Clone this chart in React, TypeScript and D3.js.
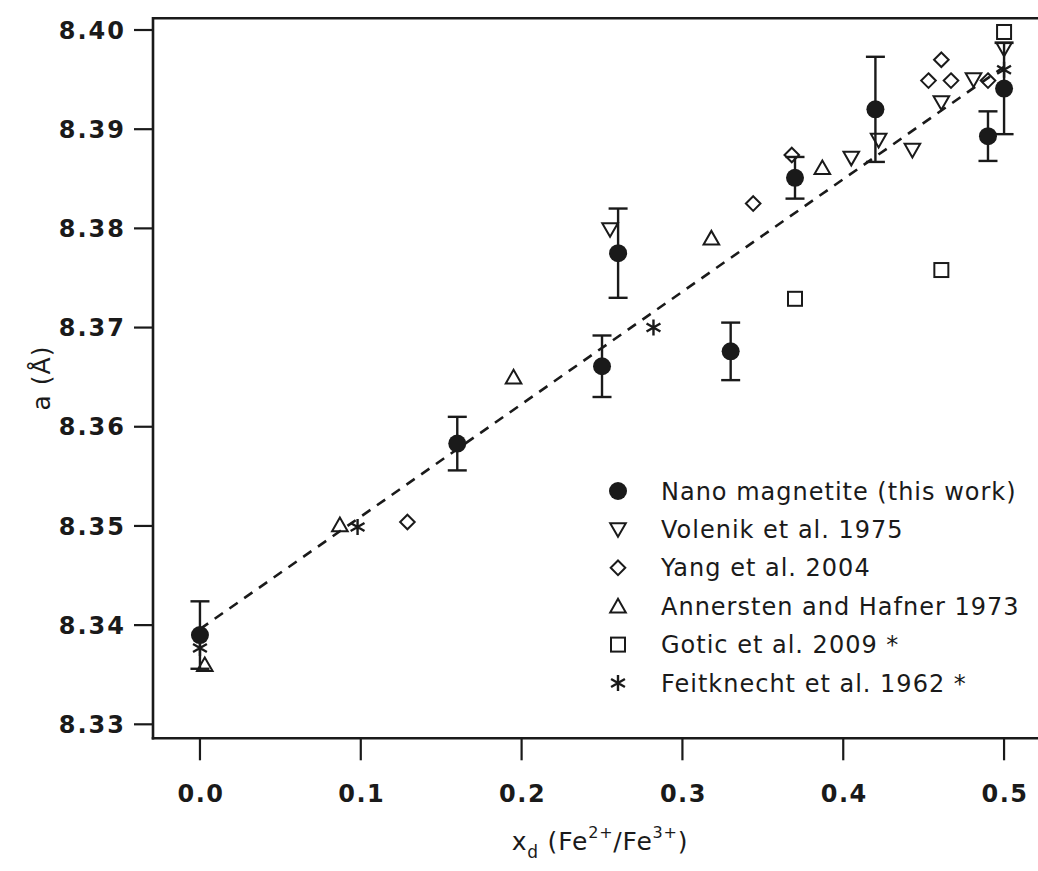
import React from "react";
import * as d3 from "d3";

// ---- Data ----
const nanoX = [0, 0.16, 0.25, 0.26, 0.33, 0.37, 0.42, 0.49, 0.5];
const nanoY = [8.339, 8.3583, 8.3661, 8.3775, 8.3676, 8.3851, 8.392, 8.3893, 8.3941];
const nanoErr = [0.0034, 0.0027, 0.0031, 0.0045, 0.0029, 0.0021, 0.0053, 0.0025, 0.0046];

const volenikX = [0.255, 0.405, 0.422, 0.443, 0.461, 0.481, 0.5];
const volenikY = [8.3799, 8.3871, 8.3889, 8.3879, 8.3927, 8.395, 8.3981];

const yangX = [0.129, 0.344, 0.368, 0.453, 0.461, 0.467, 0.49];
const yangY = [8.3504, 8.3825, 8.3874, 8.3949, 8.397, 8.3949, 8.3949];

const annerstenX = [0.003, 0.087, 0.195, 0.318, 0.387];
const annerstenY = [8.336, 8.3501, 8.365, 8.379, 8.3861];

const goticX = [0.37, 0.461, 0.5];
const goticY = [8.3729, 8.3758, 8.3998];

const feitknechtX = [0, 0.098, 0.282, 0.5];
const feitknechtY = [8.3377, 8.3499, 8.37, 8.396];

const fitX = [0, 0.5];
const fitY = [8.3396, 8.3963];

const xTicks = [0, 0.1, 0.2, 0.3, 0.4, 0.5];
const yTicks = [8.33, 8.34, 8.35, 8.36, 8.37, 8.38, 8.39, 8.4];

const legendLabels = [
  "Nano magnetite (this work)",
  "Volenik et al. 1975",
  "Yang et al. 2004",
  "Annersten and Hafner 1973",
  "Gotic et al. 2009 *",
  "Feitknecht et al. 1962 *",
];
const legendShapes = ["circle", "tridown", "diamond", "triup", "square", "asterisk"];

// ---- Layout ----
const W = 1038;
const H = 871;
const left = 153;
const right = 1038;
const top = 18.3;
const bottom = 738.3;
const FONT = "'DejaVu Sans', Verdana, sans-serif";
const INK = "#1a1a1a";

const x = d3.scaleLinear().domain([-0.0292, 0.5211]).range([left, right]);
const y = d3.scaleLinear().domain([8.32859, 8.40118]).range([bottom, top]);

function Marker({ shape, cx, cy }: { shape: string; cx: number; cy: number }) {
  const sw = 2;
  switch (shape) {
    case "circle":
      return <circle cx={cx} cy={cy} r={9} fill={INK} />;
    case "tridown": {
      const s = 7.8;
      const p = `M${cx - s},${cy - s * 0.8}L${cx + s},${cy - s * 0.8}L${cx},${cy + s * 0.95}Z`;
      return <path d={p} fill="none" stroke={INK} strokeWidth={sw} strokeLinejoin="miter" />;
    }
    case "triup": {
      const s = 7.8;
      const p = `M${cx - s},${cy + s * 0.8}L${cx + s},${cy + s * 0.8}L${cx},${cy - s * 0.95}Z`;
      return <path d={p} fill="none" stroke={INK} strokeWidth={sw} strokeLinejoin="miter" />;
    }
    case "diamond": {
      const s = 7.3;
      const p = `M${cx},${cy - s}L${cx + s},${cy}L${cx},${cy + s}L${cx - s},${cy}Z`;
      return <path d={p} fill="none" stroke={INK} strokeWidth={sw} />;
    }
    case "square": {
      const s = 7;
      return (
        <rect x={cx - s} y={cy - s} width={2 * s} height={2 * s} fill="none" stroke={INK} strokeWidth={sw} />
      );
    }
    case "asterisk": {
      const r = 8;
      const a = (Math.PI / 180) * 30;
      const dx = r * Math.cos(a);
      const dy = r * Math.sin(a);
      const p = `M${cx},${cy - r}L${cx},${cy + r}M${cx - dx},${cy - dy}L${cx + dx},${cy + dy}M${cx - dx},${cy + dy}L${cx + dx},${cy - dy}`;
      return <path d={p} fill="none" stroke={INK} strokeWidth={2.4} />;
    }
  }
  return null;
}

export default function App() {
  const line = d3
    .line<number>()
    .x((_, i) => x(fitX[i]))
    .y((d) => y(d));

  const series: { shape: string; xs: number[]; ys: number[] }[] = [
    { shape: "triup", xs: annerstenX, ys: annerstenY },
    { shape: "asterisk", xs: feitknechtX, ys: feitknechtY },
    { shape: "diamond", xs: yangX, ys: yangY },
    { shape: "tridown", xs: volenikX, ys: volenikY },
    { shape: "square", xs: goticX, ys: goticY },
  ];

  const capW = 9.5;
  const legX = 618;
  const legTextX = 661;
  const legY0 = 491;
  const legDy = 38.4;

  return (
    <svg
      width={W}
      height={H}
      style={{ position: "absolute", left: 0, top: 0, background: "#fff" }}
      fontFamily={FONT}
    >
      <rect x={0} y={0} width={W} height={H} fill="#fff" />

      {/* fit line */}
      <path d={line(fitY) || ""} fill="none" stroke={INK} strokeWidth={2.6} strokeDasharray="10 8" />

      {/* other series */}
      {series.map((s, si) =>
        s.xs.map((xv, i) => <Marker key={`${si}-${i}`} shape={s.shape} cx={x(xv)} cy={y(s.ys[i])} />)
      )}

      {/* error bars */}
      {nanoX.map((xv, i) => {
        const cx = x(xv);
        const y1 = y(nanoY[i] + nanoErr[i]);
        const y2 = y(nanoY[i] - nanoErr[i]);
        return (
          <g key={`e${i}`} stroke={INK} strokeWidth={2.4}>
            <line x1={cx} x2={cx} y1={y1} y2={y2} />
            <line x1={cx - capW} x2={cx + capW} y1={y1} y2={y1} />
            <line x1={cx - capW} x2={cx + capW} y1={y2} y2={y2} />
          </g>
        );
      })}
      {nanoX.map((xv, i) => (
        <Marker key={`n${i}`} shape="circle" cx={x(xv)} cy={y(nanoY[i])} />
      ))}

      {/* frame / axes */}
      <g stroke={INK} strokeWidth={2.6} fill="none">
        <line x1={left} x2={right} y1={top} y2={top} />
        <line x1={left} x2={left} y1={top - 1.3} y2={bottom + 1.3} />
        <line x1={left - 1.3} x2={right} y1={bottom} y2={bottom} />
      </g>

      {/* y ticks */}
      {yTicks.map((t) => (
        <g key={`yt${t}`}>
          <line x1={left - 19} x2={left} y1={y(t)} y2={y(t)} stroke={INK} strokeWidth={2.2} />
          <text
            x={126}
            y={y(t)}
            dy="0.36em"
            textAnchor="end"
            fontSize={24}
            fontWeight="bold"
            letterSpacing={2}
            fill={INK}
          >
            {d3.format(".2f")(t)}
          </text>
        </g>
      ))}

      {/* x ticks */}
      {xTicks.map((t) => (
        <g key={`xt${t}`}>
          <line x1={x(t)} x2={x(t)} y1={bottom} y2={bottom + 22} stroke={INK} strokeWidth={2.2} />
          <text
            x={x(t) + 1}
            y={802}
            textAnchor="middle"
            fontSize={24}
            fontWeight="bold"
            letterSpacing={1.5}
            fill={INK}
          >
            {d3.format(".1f")(t)}
          </text>
        </g>
      ))}

      {/* axis titles */}
      <text
        transform={`translate(50,378) rotate(-90)`}
        textAnchor="middle"
        fontSize={25}
        letterSpacing={1}
        fill={INK}
      >
        a (Å)
      </text>
      <text x={600} y={850} textAnchor="middle" fontSize={25} letterSpacing={0.8} fill={INK}>
        <tspan>x</tspan>
        <tspan fontSize={17} dy={8}>d</tspan>
        <tspan dy={-8}> (Fe</tspan>
        <tspan fontSize={16} dy={-12}>2+</tspan>
        <tspan dy={12}>/Fe</tspan>
        <tspan fontSize={16} dy={-12}>3+</tspan>
        <tspan dy={12}>)</tspan>
      </text>

      {/* legend */}
      {legendLabels.map((lab, i) => {
        const cy = legY0 + i * legDy;
        return (
          <g key={`lg${i}`}>
            <Marker shape={legendShapes[i]} cx={legX} cy={cy} />
            <text x={legTextX} y={cy} dy="0.36em" fontSize={24} letterSpacing={1} fill={INK}>
              {lab}
            </text>
          </g>
        );
      })}
    </svg>
  );
}
